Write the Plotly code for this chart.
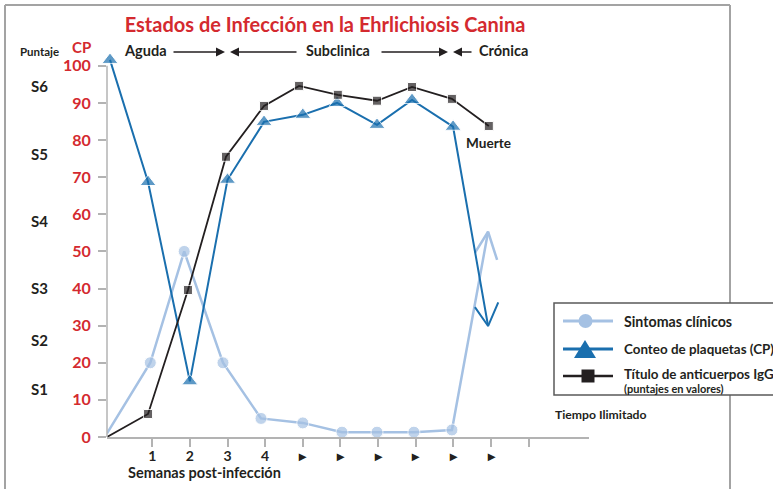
import plotly.graph_objects as go

# ---------------- data ----------------
sint_x = [-0.2, 0.95, 1.85, 2.88, 3.89, 5.0, 6.04, 6.97, 7.95, 8.96, 9.92]
sint_y = [1, 20, 50, 20, 5, 3.8, 1.3, 1.3, 1.3, 1.9, 55.3]
sint_has_marker = [0, 1, 1, 1, 1, 1, 1, 1, 1, 1, 0]
sint_head_x = [9.57, 9.92, 10.16]
sint_head_y = [49.6, 55.3, 47.7]

cp_x = [-0.12, 0.89, 2.0, 3.0, 3.97, 5.0, 5.91, 6.97, 7.9, 8.99, 9.92]
cp_y = [101.6, 68.7, 15, 69.3, 84.9, 86.8, 90, 84.1, 90.8, 83.6, 29.9]
cp_has_marker = [1, 1, 1, 1, 1, 1, 1, 1, 1, 1, 0]
cp_head_x = [9.57, 9.92, 10.19]
cp_head_y = [35.0, 29.9, 36.3]

igg_x = [-0.2, 0.89, 1.95, 2.96, 3.97, 4.9, 5.93, 6.97, 7.9, 8.96, 9.94]
igg_y = [0, 6.2, 39.6, 75.5, 89.2, 94.6, 92.2, 90.6, 94.3, 91.1, 83.8]
igg_has_marker = [0, 1, 1, 1, 1, 1, 1, 1, 1, 1, 1]

x_tickvals = [1, 2, 3, 4, 5, 6, 7, 8, 9, 10, 11]
x_ticktext = ["1", "2", "3", "4", "▸", "▸", "▸", "▸", "▸", "▸", ""]
y_tickvals = [0, 10, 20, 30, 40, 50, 60, 70, 80, 90, 100]

score_labels = ["S6", "S5", "S4", "S3", "S2", "S1"]
score_pix_y = [86, 154, 221, 288, 340, 389]

series_names = ["Sintomas clínicos", "Conteo de plaquetas (CP)", "Título de anticuerpos IgG"]

# ---------------- style ----------------
W, H = 773, 489
L, R, T, B = 107, 184, 51, 52
PW, PH = W - L - R, H - T - B
FONT = "Lato"
RED = "#d42a2f"
BLACK = "#231f20"
LIGHT = "#a5c1e3"
DARK = "#1a6fae"
AXIS = "#b3b3b3"


def fx(px):
    return (px - L) / PW


def fy(py):
    return (H - B - py) / PH


fig = go.Figure()

fig.add_trace(go.Scatter(x=sint_x, y=sint_y, mode="lines+markers",
                         line=dict(color=LIGHT, width=2.5),
                         marker=dict(symbol="circle", color=LIGHT,
                                     size=[12 * m for m in sint_has_marker]),
                         name=series_names[0], showlegend=False, hoverinfo="skip"))
fig.add_trace(go.Scatter(x=sint_head_x, y=sint_head_y, mode="lines",
                         line=dict(color=LIGHT, width=2.5), showlegend=False, hoverinfo="skip"))

fig.add_trace(go.Scatter(x=cp_x, y=cp_y, mode="lines+markers",
                         line=dict(color=DARK, width=2),
                         marker=dict(symbol="triangle-up", color=DARK,
                                     size=[14 * m for m in cp_has_marker]),
                         name=series_names[1], showlegend=False, hoverinfo="skip", cliponaxis=False))
fig.add_trace(go.Scatter(x=cp_head_x, y=cp_head_y, mode="lines",
                         line=dict(color=DARK, width=2), showlegend=False, hoverinfo="skip"))

fig.add_trace(go.Scatter(x=igg_x, y=igg_y, mode="lines+markers",
                         line=dict(color=BLACK, width=1.8),
                         marker=dict(symbol="square", color=BLACK,
                                     size=[9 * m for m in igg_has_marker]),
                         name=series_names[2], showlegend=False, hoverinfo="skip"))

shapes = []
# outer frame
frame = dict(color="#a3a3a3", width=2)
shapes.append(dict(type="line", xref="paper", yref="paper", x0=fx(5), x1=fx(730), y0=fy(5), y1=fy(5), line=frame))
shapes.append(dict(type="line", xref="paper", yref="paper", x0=fx(5), x1=fx(5), y0=fy(5), y1=fy(H + 2), line=frame))
shapes.append(dict(type="line", xref="paper", yref="paper", x0=fx(730), x1=fx(730), y0=fy(5), y1=fy(H + 2), line=frame))
# y axis line (0..100)
shapes.append(dict(type="line", xref="paper", yref="y", x0=0, x1=0, y0=0, y1=100,
                   line=dict(color=AXIS, width=1.5)))
# legend box
shapes.append(dict(type="rect", xref="paper", yref="paper", x0=fx(554), x1=fx(800), y0=fy(303), y1=fy(395),
                   fillcolor="white", line=dict(color="#5a5a5a", width=1.5)))
leg_y = [321, 349, 376]
leg_cols = [LIGHT, DARK, BLACK]
leg_w = [3, 3, 2.5]
for yy, c, w in zip(leg_y, leg_cols, leg_w):
    shapes.append(dict(type="line", xref="paper", yref="paper", x0=fx(563), x1=fx(613), y0=fy(yy), y1=fy(yy),
                       line=dict(color=c, width=w)))
# legend markers
shapes.append(dict(type="circle", xref="paper", yref="paper", x0=fx(578.5), x1=fx(592.5), y0=fy(314), y1=fy(328),
                   fillcolor=LIGHT, line=dict(width=0)))
tri = "M {} {} L {} {} L {} {} Z".format(fx(574), fy(358), fx(596), fy(358), fx(585), fy(340))
shapes.append(dict(type="path", xref="paper", yref="paper", path=tri, fillcolor=DARK, line=dict(width=0)))
shapes.append(dict(type="rect", xref="paper", yref="paper", x0=fx(581.5), x1=fx(594.5), y0=fy(369.5), y1=fy(382.5),
                   fillcolor=BLACK, line=dict(width=0)))

annotations = []


def txt(text, px, py, size, color=BLACK, xanchor="left", bold=True):
    annotations.append(dict(text=("<b>%s</b>" % text) if bold else text, xref="paper", yref="paper",
                            x=fx(px), y=fy(py), xanchor=xanchor, yanchor="middle", showarrow=False,
                            font=dict(family=FONT, size=size, color=color)))


txt("Puntaje", 39, 51, 11.5, xanchor="center")
txt("CP", 81, 47.5, 15, color=RED, xanchor="center")
for lab, py in zip(score_labels, score_pix_y):
    txt(lab, 39, py, 15, xanchor="center")
txt("Aguda", 122, 50, 14.5)
txt("Subclinica", 304, 50, 14.3)
txt("Crónica", 477, 50, 14.5)
txt("Semanas post-infección", 126, 472, 14.5)
txt("Muerte", 464, 143, 13.6)
txt("Tiempo Ilimitado", 553, 414, 12.2)
txt(series_names[0], 622, 321, 14.2)
txt(series_names[1], 622, 349, 13.4)
txt(series_names[2], 622, 374, 13.4)
txt("(puntajes en valores)", 622, 388, 11)

# phase arrows
for head, tail in [(225, 172), (230, 298), (448, 380), (453, 473)]:
    annotations.append(dict(text="", xref="paper", yref="paper", x=fx(head), y=fy(52),
                            ax=tail - head, ay=0, showarrow=True, arrowhead=2, arrowsize=1.2,
                            arrowwidth=1.5, arrowcolor=BLACK, standoff=0))

fig.update_layout(
    width=W, height=H,
    margin=dict(l=L, r=R, t=T, b=B, autoexpand=False),
    paper_bgcolor="white", plot_bgcolor="white",
    title=dict(text="<b>Estados de Infección en la Ehrlichiosis Canina</b>",
               x=325 / W, xanchor="center", y=1 - 25 / H, yanchor="middle",
               font=dict(family=FONT, size=20, color=RED)),
    xaxis=dict(range=[-0.2, 12.6], showgrid=False, zeroline=False, showline=True,
               linecolor=AXIS, linewidth=1.5, ticks="outside", ticklen=8, tickcolor=AXIS, tickwidth=1.5,
               tickvals=x_tickvals, ticktext=x_ticktext, ticklabelstandoff=-3,
               tickfont=dict(family=FONT, size=14, color=BLACK, weight="bold")),
    yaxis=dict(range=[0, 104], showgrid=False, zeroline=False, showline=False,
               ticks="outside", ticklen=8, tickcolor=AXIS, tickwidth=1.5,
               tickvals=y_tickvals, ticklabelstandoff=4,
               tickfont=dict(family=FONT, size=16, color=RED, weight="bold")),
    shapes=shapes, annotations=annotations,
)

fig.write_html("out.html", config={"displayModeBar": False},
               post_script="document.body.style.margin='0';document.body.style.overflow='hidden';")
